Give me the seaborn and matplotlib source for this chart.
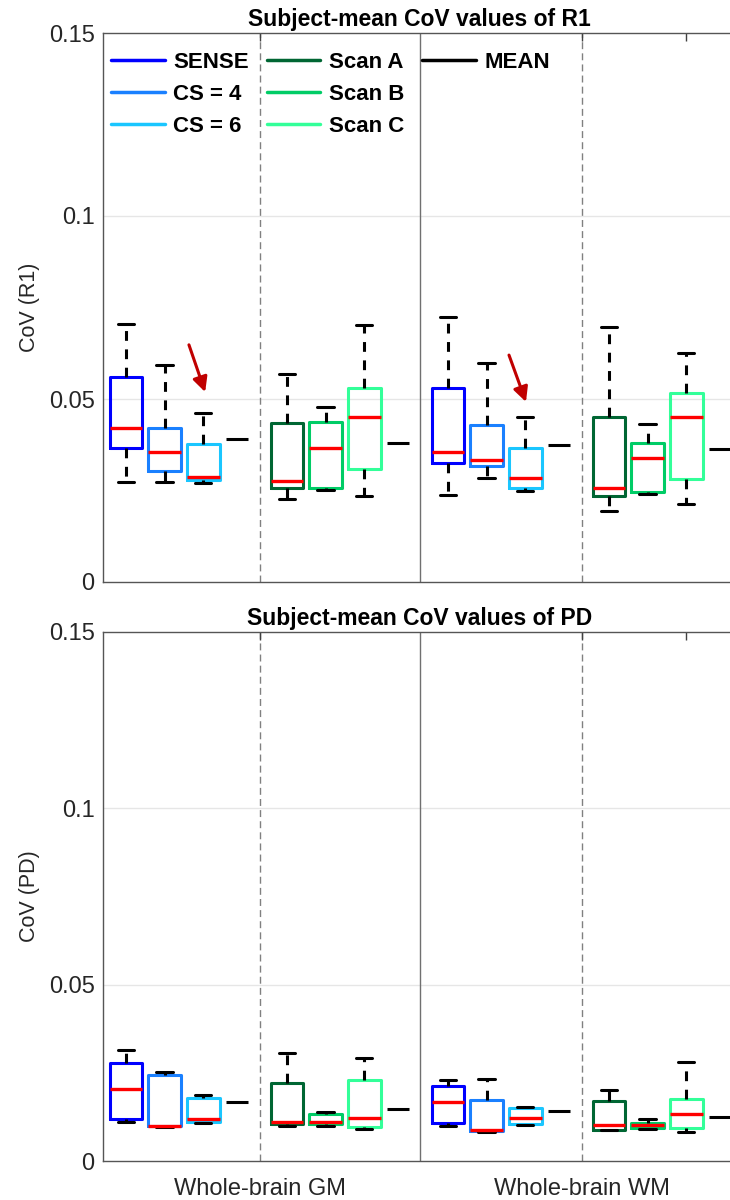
import numpy as np
import pandas as pd
import matplotlib
matplotlib.use("Agg")
import matplotlib.pyplot as plt
import seaborn as sns
from matplotlib.lines import Line2D

# ---------------- data (five-number summaries: min, q1, median, q3, max) ----------------
methods = ["SENSE", "CS = 4", "CS = 6", "Scan A", "Scan B", "Scan C"]
regions = ["Whole-brain GM", "Whole-brain WM"]
panel_titles = ["Subject-mean CoV values of R1", "Subject-mean CoV values of PD"]
panel_ylabels = ["CoV (R1)", "CoV (PD)"]
yticks = [0, 0.05, 0.1, 0.15]
ytick_labels = ["0", "0.05", "0.1", "0.15"]

r1_gm = [
    [0.0274, 0.0365, 0.0422, 0.0560, 0.0704],
    [0.0274, 0.0302, 0.0355, 0.0421, 0.0593],
    [0.0270, 0.0280, 0.0286, 0.0378, 0.0461],
    [0.0228, 0.0256, 0.0276, 0.0434, 0.0567],
    [0.0252, 0.0258, 0.0367, 0.0438, 0.0478],
    [0.0234, 0.0310, 0.0452, 0.0531, 0.0701],
]
r1_wm = [
    [0.0238, 0.0324, 0.0355, 0.0531, 0.0725],
    [0.0285, 0.0317, 0.0334, 0.0429, 0.0599],
    [0.0248, 0.0256, 0.0284, 0.0365, 0.0450],
    [0.0195, 0.0236, 0.0257, 0.0452, 0.0697],
    [0.0241, 0.0245, 0.0339, 0.0379, 0.0431],
    [0.0214, 0.0281, 0.0451, 0.0516, 0.0626],
]
pd_gm = [
    [0.0111, 0.0119, 0.0205, 0.0278, 0.0314],
    [0.0096, 0.0098, 0.0100, 0.0243, 0.0253],
    [0.0109, 0.0111, 0.0119, 0.0180, 0.0186],
    [0.0100, 0.0105, 0.0111, 0.0221, 0.0307],
    [0.0100, 0.0106, 0.0110, 0.0132, 0.0138],
    [0.0091, 0.0097, 0.0123, 0.0231, 0.0293],
]
pd_wm = [
    [0.0100, 0.0107, 0.0167, 0.0212, 0.0231],
    [0.0083, 0.0084, 0.0087, 0.0174, 0.0233],
    [0.0102, 0.0105, 0.0122, 0.0149, 0.0153],
    [0.0087, 0.0088, 0.0101, 0.0171, 0.0200],
    [0.0091, 0.0094, 0.0102, 0.0108, 0.0119],
    [0.0083, 0.0093, 0.0133, 0.0176, 0.0280],
]
# group means: [GM accel, GM scans, WM accel, WM scans]
r1_means = [0.0390, 0.0381, 0.0375, 0.0364]
pd_means = [0.0168, 0.0148, 0.0141, 0.0126]

# ---------------- layout ----------------
colors = ["#0000FF", "#1A80FF", "#1AC6FF", "#006633", "#00CC66", "#33FF99"]
box_pos = {
    "Whole-brain GM": [1.0, 2.0, 3.0, 5.17, 6.17, 7.17],
    "Whole-brain WM": [9.34, 10.34, 11.34, 13.51, 14.51, 15.51],
}
mean_pos = [3.87, 8.04, 12.21, 16.38]
dashed_x = [4.47, 12.81]
solid_x = 8.61
xlim = (0.404, 16.8)

sns.set_theme(style="white")
plt.rcParams["font.family"] = ["Liberation Sans", "DejaVu Sans"]
TXT = "#262626"

fig = plt.figure(figsize=(7.3, 12), dpi=100)
ax_top = fig.add_axes([103 / 730, 1 - 582 / 1200, 633 / 730, 549 / 1200])
ax_bot = fig.add_axes([103 / 730, 1 - 1161 / 1200, 633 / 730, 529 / 1200])

panels = [
    (ax_top, {"Whole-brain GM": r1_gm, "Whole-brain WM": r1_wm}, r1_means),
    (ax_bot, {"Whole-brain GM": pd_gm, "Whole-brain WM": pd_wm}, pd_means),
]

for i, (ax, pdata, means) in enumerate(panels):
    rows = []
    for reg in regions:
        for m, summary, p in zip(methods, pdata[reg], box_pos[reg]):
            for v in summary:
                rows.append({"pos": p, "method": m, "value": v})
    df = pd.DataFrame(rows)

    # grid & separators under the boxes
    for yv in yticks[1:3]:
        ax.axhline(yv, color="#e6e6e6", lw=1.0, zorder=0)
    for xv in dashed_x:
        ax.axvline(xv, color="#808080", lw=1.0, ls=(0, (5, 3)), zorder=0.5)
    ax.axvline(solid_x, color="#707070", lw=1.0, zorder=0.5)

    sns.boxplot(
        data=df, x="pos", y="value", hue="method", hue_order=methods,
        palette=colors, native_scale=True, dodge=False, fill=False,
        width=0.85, whis=(0, 100), showfliers=False, linewidth=2.2,
        medianprops=dict(color="red", linewidth=2.4),
        whiskerprops=dict(color="black", linestyle=(0, (3.2, 2.8))),
        capprops=dict(color="black"),
        legend=False, ax=ax,
    )
    ax.hlines(means, np.array(mean_pos) - 0.28, np.array(mean_pos) + 0.28,
              color="black", lw=2.2, zorder=3)

    ax.set_xlim(*xlim)
    ax.set_ylim(0, 0.15)
    ax.set_yticks(yticks)
    ax.set_yticklabels(ytick_labels)
    ax.set_xticks([dashed_x[0], dashed_x[1], box_pos["Whole-brain WM"][5]])
    if i == 1:
        ax.set_xticklabels([regions[0], regions[1], ""])
    else:
        ax.set_xticklabels(["", "", ""])
    ax.set_xlabel("")
    ax.set_ylabel(panel_ylabels[i], fontsize=15.5, color=TXT, labelpad=6)
    ax.set_title(panel_titles[i], fontsize=16.5, fontweight="bold", color="black", pad=5)
    ax.tick_params(axis="both", direction="in", length=6, width=1.0, color="#404040",
                   top=True, right=False, labelsize=17, labelcolor=TXT)
    ax.tick_params(axis="x", pad=12)
    ax.tick_params(axis="y", pad=6)
    for s in ax.spines.values():
        s.set_color("#555555")
        s.set_linewidth(1.0)
    ax.set_facecolor("white")

# red arrows pointing at the CS = 6 boxes
for (x0, y0, x1, y1) in [(2.63, 0.0648, 3.05, 0.0519), (10.92, 0.0620, 11.36, 0.0492)]:
    ax_top.annotate("", xy=(x1, y1), xytext=(x0, y0),
                    arrowprops=dict(arrowstyle="-|>", color="#C00000", lw=2.2,
                                    mutation_scale=22, shrinkA=0, shrinkB=0))

handles = [Line2D([0], [0], color=c, lw=2.5) for c in colors]
handles.append(Line2D([0], [0], color="black", lw=2.5))
labels = methods + ["MEAN"]
# two invisible entries so that the third column holds only MEAN
handles += [Line2D([0], [0], color="none", lw=0)] * 2
labels += ["", ""]
ax_top.legend(handles, labels, ncol=3, loc="upper left",
              bbox_to_anchor=(0.013, 0.966), frameon=False, borderaxespad=0,
              borderpad=0, handlelength=2.4, handletextpad=0.4, columnspacing=0.8,
              labelspacing=0.5, labelcolor="black",
              prop=dict(family="Liberation Sans", weight="bold", size=16))

fig.savefig("out.png", dpi=100)
